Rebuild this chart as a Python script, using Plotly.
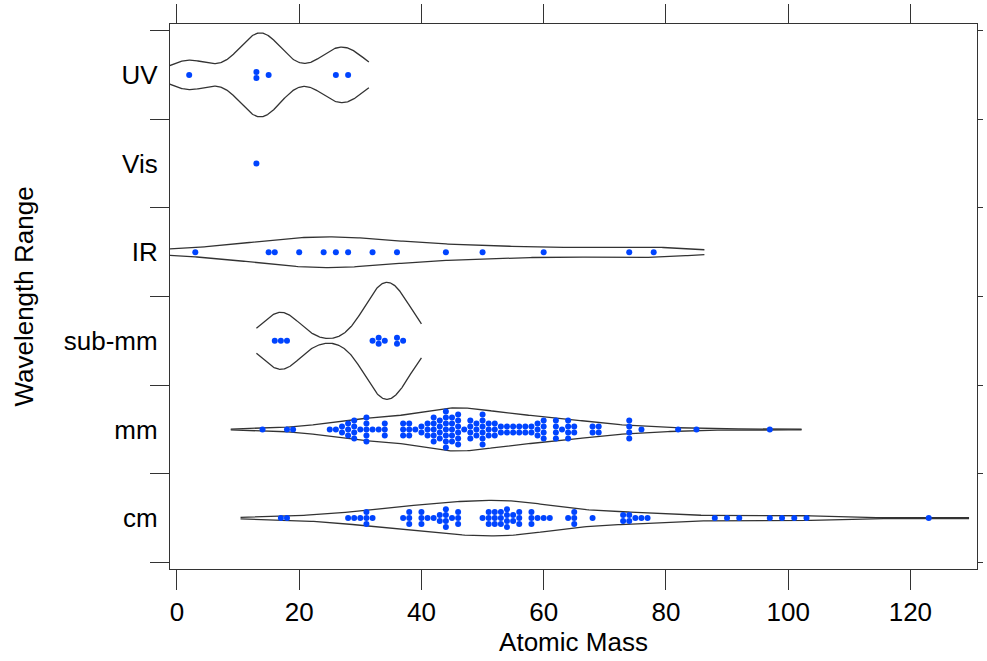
import numpy as np
import plotly.graph_objects as go

# ---------------- data ----------------
categories = ["cm", "mm", "sub-mm", "IR", "Vis", "UV"]  # bottom -> top
uv = [2, 13, 13, 15, 26, 28]
vis = [13]
ir = [3, 15, 16, 20, 24, 26, 28, 32, 36, 44, 50, 60, 74, 78]
submm = [16, 17, 18, 32, 33, 33, 34, 36, 36, 37]
mm = [14, 18, 19, 25, 26, 27, 27, 28, 28, 28, 29, 29, 29, 29, 30,
      31, 31, 31, 31, 31, 32, 33, 34, 34, 34, 37, 37, 37, 38, 38, 38, 39,
      40, 40, 41, 41, 41, 42, 42, 42, 42, 42, 43, 43, 43, 43,
      44, 44, 44, 44, 44, 44, 44, 45, 45, 45, 45, 45, 46, 46, 46, 46, 46, 46,
      47, 48, 48, 48, 48, 49, 49, 49, 50, 50, 50, 50, 50, 50, 51, 51, 51,
      52, 52, 52, 53, 53, 54, 54, 55, 55, 56, 56, 57, 57, 58, 58, 59, 59, 59,
      60, 60, 60, 60, 62, 62, 62, 62, 63, 64, 64, 64, 64, 65, 65, 68, 68,
      69, 69, 74, 74, 74, 74, 76, 82, 85, 97]
cm = [17, 18, 28, 29, 30, 31, 31, 31, 32, 37, 38, 38, 38, 40, 40, 40, 41, 42,
      43, 43, 44, 44, 44, 44, 45, 46, 46, 46, 50, 51, 51, 51, 52, 52, 52,
      53, 53, 53, 54, 54, 54, 54, 55, 55, 56, 56, 56, 58, 58, 58, 59, 60, 61,
      64, 65, 65, 65, 68, 73, 73, 74, 74, 75, 76, 77, 88, 90, 92, 97, 99, 101,
      103, 123]
groups = {"cm": cm, "mm": mm, "sub-mm": submm, "IR": ir, "Vis": vis, "UV": uv}
bandwidths = {"UV": 3.4, "IR": 8.3, "sub-mm": 3.0, "mm": 5.2, "cm": 6.6}
x_ticks = [0, 20, 40, 60, 80, 100, 120]

# ---------------- style ----------------
FONT = "Liberation Sans, Arial, Helvetica, sans-serif"
FS = 26
DOT = "#0044ff"
LINE = "#333333"
K = 8.37          # density -> y half-width
SPACING = 0.0676  # vertical swarm spacing in y units
XR = [-1.14, 130.9]
YR = [0.426, 6.574]

fig = go.Figure()

for pos, cat in enumerate(categories, start=1):
    vals = np.array(groups[cat], dtype=float)
    if cat in bandwidths and len(vals) > 1:
        bw = bandwidths[cat]
        xs = np.linspace(vals.min() - bw, vals.max() + bw, 300)
        dens = np.exp(-0.5 * ((xs[:, None] - vals[None, :]) / bw) ** 2).sum(1)
        dens = dens / (len(vals) * bw * np.sqrt(2 * np.pi))
        half = dens * K
        for sgn in (1, -1):
            fig.add_trace(go.Scatter(x=xs, y=pos + sgn * half, mode="lines",
                                     line=dict(color=LINE, width=1.3),
                                     hoverinfo="skip", showlegend=False))
    # swarm offsets
    uniq, counts = np.unique(vals, return_counts=True)
    px, py = [], []
    for u, c in zip(uniq, counts):
        for i in range(c):
            px.append(u)
            py.append(pos + (i - (c - 1) / 2) * SPACING)
    fig.add_trace(go.Scatter(x=px, y=py, mode="markers",
                             marker=dict(color=DOT, size=6, line=dict(width=0)),
                             showlegend=False))

# dummy traces to carry the extra tick axes
fig.add_trace(go.Scatter(x=[None], y=[None], xaxis="x2", yaxis="y2", showlegend=False))
fig.add_trace(go.Scatter(x=[None], y=[None], xaxis="x", yaxis="y3", showlegend=False))

half_ticks = [i + 0.5 for i in range(0, 7)]

fig.update_layout(
    width=987, height=661,
    margin=dict(l=170, r=5, t=23, b=92),
    paper_bgcolor="white", plot_bgcolor="white",
    font=dict(family=FONT, size=FS, color="black"),
    xaxis=dict(range=XR, tickvals=x_ticks, ticks="outside", ticklen=20,
               tickcolor=LINE, showline=True, linecolor=LINE, linewidth=1.2,
               mirror=True, showgrid=False, zeroline=False,
               tickfont=dict(size=FS),
               title=dict(text="Atomic Mass", font=dict(size=FS), standoff=4)),
    xaxis2=dict(range=XR, overlaying="x", side="top", tickvals=x_ticks,
                ticks="outside", ticklen=19, tickcolor=LINE,
                showticklabels=False, showgrid=False, zeroline=False),
    yaxis=dict(range=YR, tickvals=list(range(1, 7)), ticktext=categories,
               ticks="outside", ticklen=6, tickcolor="rgba(0,0,0,0)",
               showline=True, linecolor=LINE, linewidth=1.2, mirror=True,
               showgrid=False, zeroline=False, tickfont=dict(size=FS),
               title=dict(text="Wavelength Range", font=dict(size=FS), standoff=22)),
    yaxis2=dict(range=YR, overlaying="y", side="left", tickvals=half_ticks,
                ticks="outside", ticklen=19, tickcolor=LINE,
                showticklabels=False, showgrid=False, zeroline=False),
    yaxis3=dict(range=YR, overlaying="y", side="right", tickvals=half_ticks,
                ticks="outside", ticklen=5, tickcolor=LINE,
                showticklabels=False, showgrid=False, zeroline=False),
)

fig.write_html("out.html")
